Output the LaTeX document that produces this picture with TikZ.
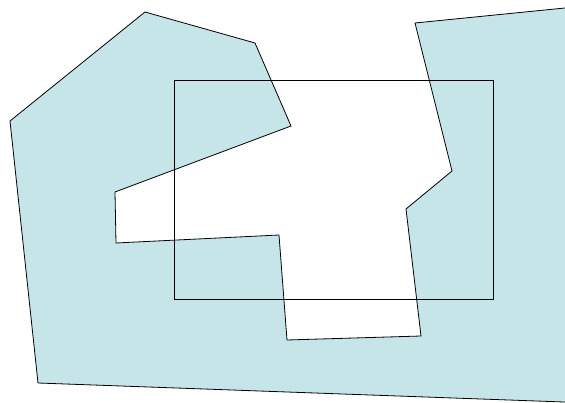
\documentclass[tikz,border=0pt]{standalone}
\begin{document}
\begin{tikzpicture}[x=1pt,y=-1pt,line width=0.8pt]
\definecolor{fillblue}{HTML}{C5E5E9}
\useasboundingbox (0,0) rectangle (565,403);
\clip (0,0) rectangle (565,403);
\draw[fill=fillblue] (10,121) -- (145,12) -- (255,43) -- (291,126) -- (115,192) -- (116,243) -- (279,235) -- (287,340) -- (421,336) -- (406,209) -- (452,171) -- (415,23) -- (600,4.5) -- (600,403.3) -- (38,383) -- cycle;
\draw (174,80) rectangle (493,299);
\end{tikzpicture}
\end{document}
